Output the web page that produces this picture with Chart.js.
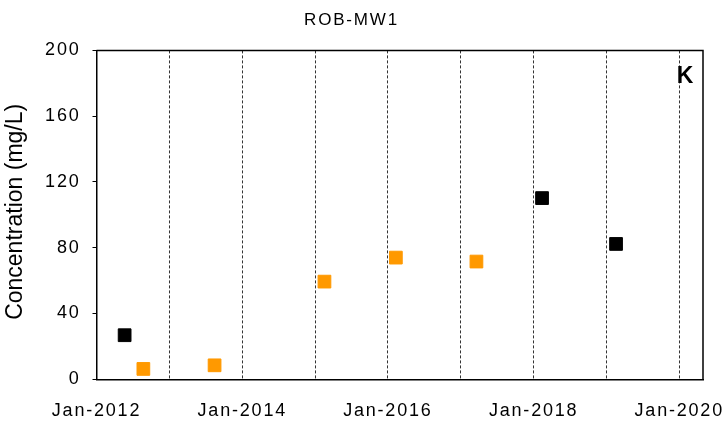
<!DOCTYPE html>
<html>
<head>
<meta charset="utf-8">
<script src="https://cdn.jsdelivr.net/npm/chart.js@4"></script>
<style>
  body { margin: 0; background: #fff; }
</style>
</head>
<body>
<canvas id="canvas" width="728" height="426"></canvas>
<script>
// sampling dates and concentrations (mg/L)
var blackDates = ['2012-05-21', '2018-02-12', '2019-02-18'];
var blackValues = [26.8, 110.2, 82.3];
var orangeDates = ['2012-08-23', '2013-08-15', '2015-02-17', '2016-02-10', '2017-03-20'];
var orangeValues = [6.3, 8.5, 59.4, 74.0, 71.6];

// yearly gridlines, labelled every second year
var tickYears = [2012, 2013, 2014, 2015, 2016, 2017, 2018, 2019, 2020];
var tickLabels = ['Jan-2012', '', 'Jan-2014', '', 'Jan-2016', '', 'Jan-2018', '', 'Jan-2020'];
var yTicks = [0, 40, 80, 120, 160, 200];

var FONT = "'Liberation Sans', Arial, sans-serif";

function toPoints(dates, values) {
    return dates.map(function(d, i) {
        return { x: Date.parse(d), y: values[i] };
    });
}

// the Excel-style text is spaced a bit wider than plain Arial
var spacing = {
    id: 'spacing',
    beforeLayout: function(chart) { chart.ctx.letterSpacing = '1.8px'; },
    beforeDraw: function(chart) { chart.ctx.letterSpacing = '1.8px'; }
};

// closes the plot box and adds the axis title and panel letter
var frame = {
    id: 'frame',
    afterDraw: function(chart) {
        var ctx = chart.ctx;
        var a = chart.chartArea;
        ctx.save();
        ctx.letterSpacing = '0px';
        ctx.strokeStyle = '#000';
        ctx.lineWidth = 1.5;
        ctx.beginPath();
        ctx.moveTo(a.left, a.top);
        ctx.lineTo(a.right, a.top);
        ctx.lineTo(a.right, a.bottom);
        ctx.stroke();

        ctx.fillStyle = '#000';
        ctx.textAlign = 'center';
        ctx.textBaseline = 'middle';
        ctx.font = 'bold 23px ' + FONT;
        ctx.fillText('K', a.right - 18, a.top + 26);

        ctx.font = '23px ' + FONT;
        ctx.translate(16, (a.top + a.bottom) / 2 - 3);
        ctx.rotate(-Math.PI / 2);
        ctx.fillText('Concentration (mg/L)', 0, 0);
        ctx.restore();
    }
};

var canvasElement = document.getElementById('canvas');
var config = {
    type: 'scatter',
    data: {
        datasets: [{
            label: 'black',
            data: toPoints(blackDates, blackValues),
            pointStyle: 'rect',
            pointRadius: 9,
            pointHoverRadius: 9,
            backgroundColor: '#000000',
            borderColor: '#000000',
            borderWidth: 1
        },
        {
            label: 'orange',
            data: toPoints(orangeDates, orangeValues),
            pointStyle: 'rect',
            pointRadius: 9,
            pointHoverRadius: 9,
            backgroundColor: '#FF9900',
            borderColor: '#FF9900',
            borderWidth: 1
        }]
    },
    options: {
        responsive: false,
        animation: false,
        layout: { padding: { left: 0, right: 25, top: 0, bottom: 0 } },
        plugins: {
            legend: { display: false },
            tooltip: { enabled: false },
            title: {
                display: true,
                text: 'ROB-MW1',
                color: '#000',
                font: { family: FONT, size: 17, weight: 'normal' },
                padding: { top: 10, bottom: 20 }
            }
        },
        scales: {
            x: {
                type: 'linear',
                min: Date.UTC(2012, 0, 1),
                max: Date.UTC(2020, 3, 29),
                afterBuildTicks: function(scale) {
                    scale.ticks = tickYears.map(function(y) {
                        return { value: Date.UTC(y, 0, 1) };
                    });
                },
                afterFit: function(scale) {
                    scale.height = 46.7;
                    scale.paddingLeft = 0;
                    scale.paddingRight = 0;
                },
                ticks: {
                    autoSkip: false,
                    maxRotation: 0,
                    padding: 21,
                    color: '#000',
                    font: { family: FONT, size: 18 },
                    callback: function(value, index) { return tickLabels[index]; }
                },
                grid: {
                    drawTicks: false,
                    color: '#333',
                    lineWidth: 1
                },
                border: { display: true, color: '#000', width: 1.5, dash: [3, 2] }
            },
            y: {
                min: 0,
                max: 200,
                afterBuildTicks: function(scale) {
                    scale.ticks = yTicks.map(function(v) { return { value: v }; });
                },
                afterFit: function(scale) { scale.width = 96.5; },
                ticks: {
                    padding: 12,
                    color: '#000',
                    font: { family: FONT, size: 18 }
                },
                grid: {
                    drawOnChartArea: false,
                    drawTicks: true,
                    tickLength: 4,
                    color: '#000'
                },
                border: { display: true, color: '#000', width: 1.5 }
            }
        }
    },
    plugins: [spacing, frame]
};

var concChart = new Chart(canvasElement, config);
</script>
</body>
</html>
